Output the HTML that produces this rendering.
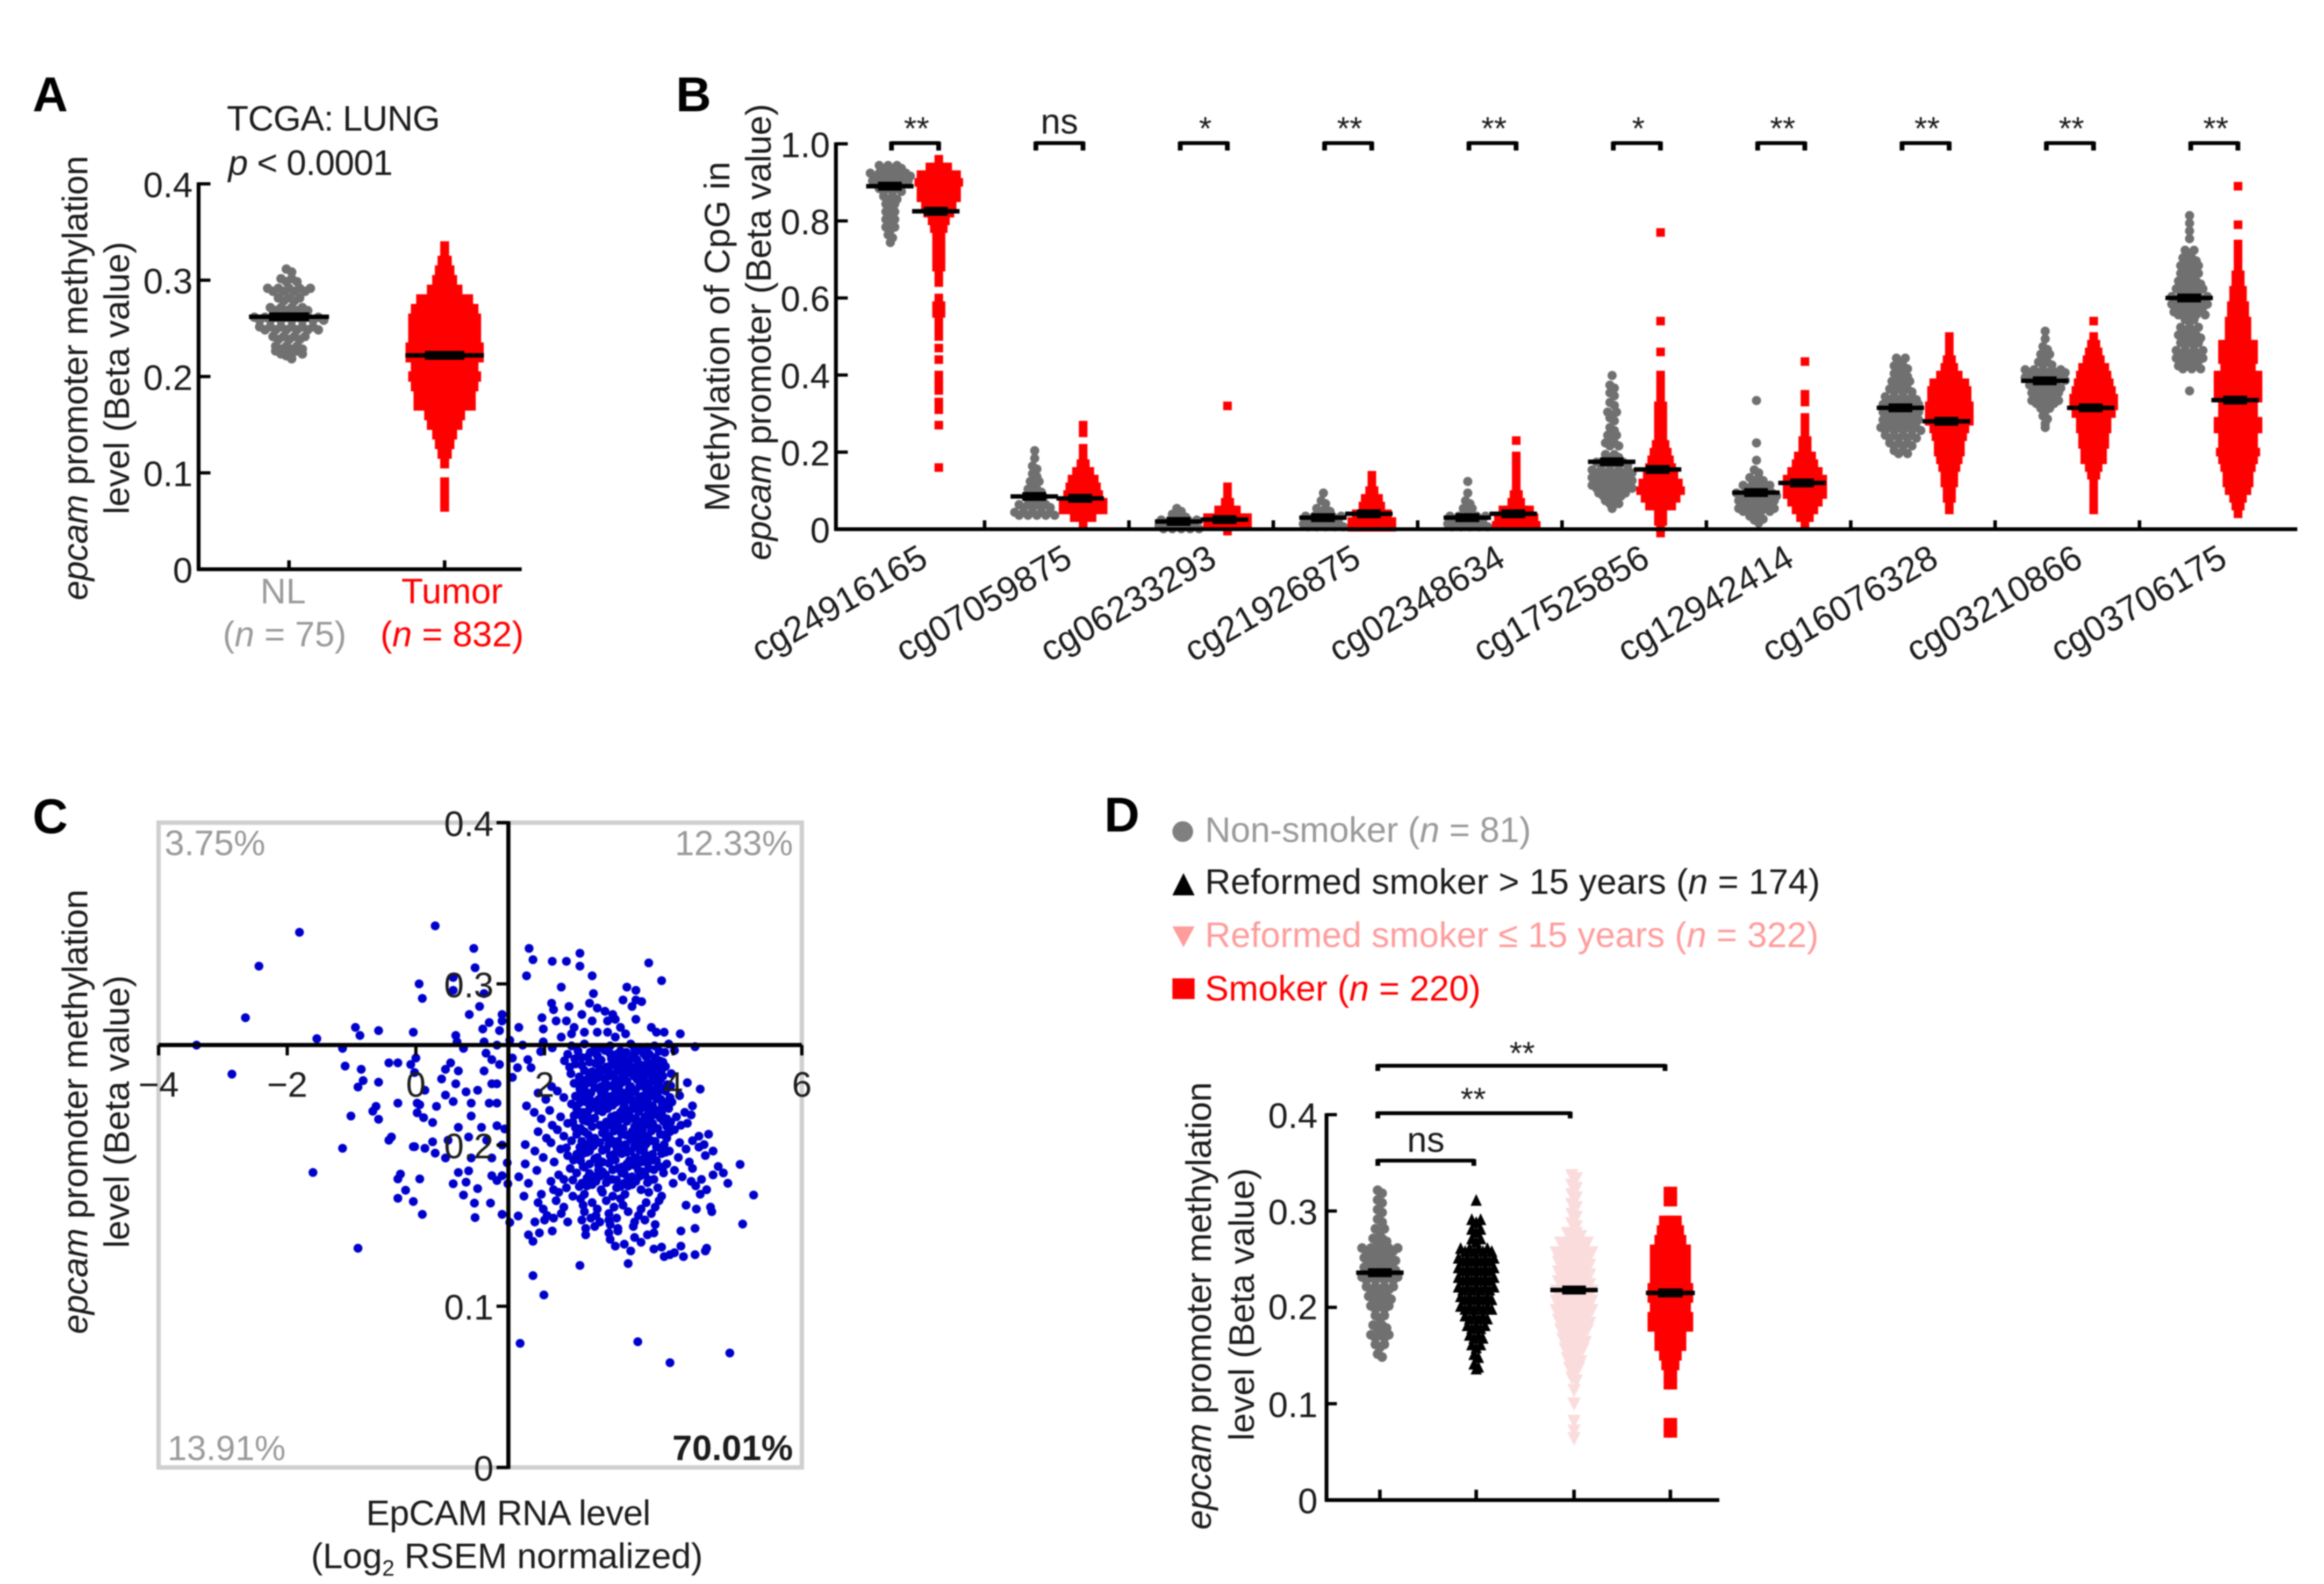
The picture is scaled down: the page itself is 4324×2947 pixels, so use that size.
<!DOCTYPE html>
<html lang="en">
<head>
<meta charset="utf-8">
<title>EpCAM promoter methylation figure</title>
<style>
html,body{margin:0;padding:0;background:#fff;}
svg{display:block;filter:blur(1.2px);}
text{font-family:"Liberation Sans",Arial,sans-serif;fill:#1c1c1c;}
.tick{font-size:24px;}
.t{font-size:24px;}
.letter{font-size:33px;font-weight:bold;fill:#000;}
.g{fill:#9a9a9a;}
.r{fill:#ff0000;}
.p{fill:#ff9c9c;}
</style>
</head>
<body>
<svg id="fig" xmlns="http://www.w3.org/2000/svg" width="4324" height="2947" viewBox="0 0 1568 1068.6">
<rect x="0" y="0" width="1568" height="1068.6" fill="#fff"/>

<!-- Panel A text -->
<text class="letter" x="22" y="75">A</text>
<text class="t" x="153" y="88" textLength="144">TCGA: LUNG</text>
<text class="t" x="154" y="118" textLength="111"><tspan font-style="italic">p</tspan> &lt; 0.0001</text>
<text class="t" transform="translate(59,255) rotate(-90)" text-anchor="middle" textLength="300"><tspan font-style="italic">epcam</tspan> promoter methylation</text>
<text class="t" transform="translate(87,255) rotate(-90)" text-anchor="middle" textLength="184">level (Beta value)</text>
<text class="tick" x="130" y="133" text-anchor="end">0.4</text>
<text class="tick" x="130" y="198" text-anchor="end">0.3</text>
<text class="tick" x="130" y="263" text-anchor="end">0.2</text>
<text class="tick" x="130" y="328" text-anchor="end">0.1</text>
<text class="tick" x="130" y="393" text-anchor="end">0</text>
<text class="t g" x="191" y="407" text-anchor="middle">NL</text>
<text class="t g" x="192" y="436" text-anchor="middle">(<tspan font-style="italic" class="g">n</tspan> = 75)</text>
<text class="t r" x="305" y="407" text-anchor="middle">Tumor</text>
<text class="t r" x="305" y="436" text-anchor="middle">(<tspan font-style="italic" class="r">n</tspan> = 832)</text>

<!-- Panel B text -->
<text class="letter" x="456" y="75">B</text>
<text class="t" transform="translate(492,227) rotate(-90)" text-anchor="middle" textLength="236">Methylation of CpG in</text>
<text class="t" transform="translate(520,224) rotate(-90)" text-anchor="middle" textLength="308"><tspan font-style="italic">epcam</tspan> promoter (Beta value)</text>

<!-- Panel C text -->
<text class="letter" x="22" y="562">C</text>
<text class="t" transform="translate(59,750) rotate(-90)" text-anchor="middle" textLength="300"><tspan font-style="italic">epcam</tspan> promoter methylation</text>
<text class="t" transform="translate(87,750) rotate(-90)" text-anchor="middle" textLength="184">level (Beta value)</text>
<text class="t" x="343" y="1029" text-anchor="middle" textLength="192">EpCAM RNA level</text>
<text class="t" x="342" y="1058" text-anchor="middle">(Log<tspan font-size="15" dy="5">2</tspan><tspan dy="-5"> RSEM normalized)</tspan></text>

<!-- Panel D text -->
<text class="letter" x="745" y="561">D</text>
<g>
<circle cx="798" cy="561" r="7" fill="#808080"/>
<text class="t g" x="813" y="568" textLength="220">Non-smoker (<tspan font-style="italic" class="g">n</tspan> = 81)</text>
<polygon points="791,604 806,604 798.5,589" fill="#000"/>
<text class="t" x="813" y="603" fill="#000" textLength="415">Reformed smoker &gt; 15 years (<tspan font-style="italic">n</tspan> = 174)</text>
<polygon points="791,625 806,625 798.5,639" fill="#ff9c9c"/>
<text class="t p" x="813" y="639" textLength="414">Reformed smoker ≤ 15 years (<tspan font-style="italic" class="p">n</tspan> = 322)</text>
<rect x="791" y="660" width="15" height="14" fill="#ff0000"/>
<text class="t r" x="813" y="675">Smoker (<tspan font-style="italic" class="r">n</tspan> = 220)</text>
</g>
<text class="t" transform="translate(817,881) rotate(-90)" text-anchor="middle" textLength="302"><tspan font-style="italic">epcam</tspan> promoter methylation</text>
<text class="t" transform="translate(846,880) rotate(-90)" text-anchor="middle" textLength="184">level (Beta value)</text>
<text class="tick" x="889" y="761" text-anchor="end">0.4</text>
<text class="tick" x="889" y="826" text-anchor="end">0.3</text>
<text class="tick" x="889" y="890" text-anchor="end">0.2</text>
<text class="tick" x="889" y="956" text-anchor="end">0.1</text>
<text class="tick" x="889" y="1021" text-anchor="end">0</text>

<g id="marks"></g>
</svg>

<script>
/* ---------- Panel A values ---------- */
const nlLevels=[.31,.30,.29,.28,.27,.26,.25,.24,.23,.225,.22];
const nlCounts=[2,4,9,5,8,14,12,7,6,6,2];
const tumorLevels=[.335,.328,.32,.31,.30,.29,.28,.27,.26,.25,.24,.23,.22,.21,.20,.19,.18,.17,.16,.15,.14,.13,.12,.11,.09,.08,.072,.065];
const tumorCounts=[1,1,2,3,4,6,10,12,13,13,13,14,14,12,13,12,11,11,7,6,4,3,2,1,1,1,1,1];
const aMeans=[.262,.222];

/* ---------- Panel B values ---------- */
const cpgNames=['cg24916165','cg07059875','cg06233293','cg21926875','cg02348634','cg17525856','cg12942414','cg16076328','cg03210866','cg03706175'];
const cpgSignificance=['**','ns','*','**','**','*','**','**','**','**'];
const cpgGrayMeans=[.89,.085,.02,.03,.03,.175,.095,.315,.385,.60];
const cpgRedMeans=[.825,.08,.025,.04,.04,.155,.12,.28,.315,.335];
const cpgGrayLevels=[
[.94,.92,.90,.88,.86,.84,.82,.80,.78,.76,.74],
[.20,.18,.16,.14,.12,.10,.08,.06,.04],
[.05,.035,.02,.005],
[.09,.07,.05,.03,.01],
[.12,.09,.07,.05,.03,.01],
[.395,.37,.35,.325,.30,.285,.26,.24,.22,.19,.17,.15,.13,.11,.09,.07,.05],
[.33,.22,.175,.15,.13,.11,.09,.07,.05,.03,.02],
[.44,.42,.40,.38,.36,.34,.32,.30,.28,.26,.24,.22,.20],
[.51,.49,.47,.45,.43,.41,.39,.37,.35,.33,.31,.29,.27,.26],
[.81,.79,.77,.75,.72,.70,.68,.66,.64,.62,.60,.58,.56,.54,.52,.50,.48,.46,.44,.42,.355]
];
const cpgGrayCounts=[
[6,10,9,6,4,3,3,3,3,2,1],
[1,1,2,2,3,4,5,8,10],
[2,4,9,10],
[1,2,4,9,10],
[1,1,2,3,9,10],
[1,2,2,2,3,2,2,3,4,4,8,10,10,10,7,4,1],
[1,1,1,2,4,7,10,9,9,4,2],
[3,4,4,5,6,8,9,9,9,10,8,6,4],
[1,1,2,3,4,10,10,8,7,7,3,2,1,1],
[1,1,1,1,3,4,5,5,6,7,9,9,8,3,5,6,5,7,7,6,1]
];
const cpgRedLevels=[
[.96,.94,.92,.90,.88,.86,.84,.82,.80,.78,.76,.74,.72,.70,.68,.66,.64,.60,.58,.56,.54,.52,.50,.47,.44,.40,.38,.36,.33,.31,.27,.16],
[.27,.25,.21,.19,.17,.15,.13,.11,.09,.07,.05,.03,.01],
[.32,.11,.09,.07,.05,.03,.01,-.005],
[.14,.12,.10,.08,.06,.04,.02,.005],
[.23,.19,.17,.15,.13,.11,.09,.07,.05,.03,.01],
[.77,.54,.46,.40,.38,.36,.34,.32,.30,.28,.26,.24,.22,.20,.18,.16,.14,.12,.10,.08,.06,.04,.02,0,-.01],
[.435,.35,.33,.29,.27,.25,.23,.21,.19,.17,.15,.13,.11,.09,.07,.05,.03,.01],
[.50,.48,.46,.44,.42,.40,.38,.36,.34,.32,.30,.28,.26,.24,.22,.20,.18,.16,.14,.12,.10,.08,.06,.05],
[.54,.50,.48,.46,.44,.42,.40,.38,.36,.34,.32,.30,.28,.26,.24,.22,.20,.18,.16,.14,.12,.10,.08,.06,.05],
[.89,.79,.74,.72,.70,.68,.66,.64,.62,.60,.58,.56,.54,.52,.50,.48,.46,.44,.42,.40,.38,.36,.34,.32,.30,.28,.26,.24,.22,.20,.18,.16,.14,.12,.10,.08,.06,.04]
];
const cpgRedCounts=[
[1,5,9,10,9,9,7,6,4,3,2,2,2,2,2,1,1,1,2,2,1,1,1,1,1,1,1,1,1,1,1,1],
[1,1,1,1,2,4,6,7,8,10,10,5,1],
[1,1,1,2,5,10,10,1],
[1,1,2,4,5,8,10,10],
[1,1,1,1,1,1,2,3,7,9,10],
[1,1,1,1,1,1,1,2,2,2,2,2,3,4,5,6,7,9,10,8,6,2,2,1,1],
[1,1,1,1,1,1,2,2,4,5,7,9,9,9,7,5,3,1],
[1,1,1,2,3,5,8,9,9,10,10,10,8,7,6,6,5,4,3,3,2,2,1,1],
[1,1,2,3,4,6,7,8,9,10,10,9,7,7,6,6,5,5,3,2,1,1,1,1,1],
[1,1,1,1,1,1,2,2,3,3,4,4,5,5,5,8,8,8,7,10,10,10,10,8,8,10,10,8,8,9,8,7,6,6,5,3,2,1]
];

/* ---------- Panel C values (RNA level, methylation beta) ---------- */
const scatterSparse=[[-3.41,.262],[-2.86,.244],[-2.65,.279],[-2.44,.311],[-1.81,.332],[-1.54,.266],[-1.60,.183],[-1.14,.198],[-1.14,.260],[-1.10,.249],[-1.01,.218],[-.94,.273],[-.87,.268],[-.85,.247],[-.90,.236],[-.82,.24],[-.90,.136],[-.67,.221],[-.62,.224],[-.58,.271],[-.58,.239],[-.58,.216],[-.42,.203],[-.38,.205],[-.42,.251],[-.28,.251],[-.28,.226],[-.28,.179],[-.24,.182],[-.28,.167],[-.16,.172],[-.04,.270],[0,.254],[-.08,.250],[-.02,.245],[-.04,.199],[.06,.225],[.02,.22],[-.04,.165],[.10,.157],[.06,.179],[.05,.300],[.10,.291],[.30,.336],[.90,.322],[.92,.310],[.58,.304],[.58,.296],[1.06,.294],[.99,.286],[.83,.281],[1.34,.281],[1.34,.277],[1.14,.276],[1.04,.272],[1.30,.271],[.62,.268],[.64,.264],[.74,.260],[1.06,.264],[1.26,.262],[1.60,.273],[1.46,.265],[1.66,.262],[1.09,.257],[1.18,.253],[1.30,.250],[1.50,.254],[.54,.251],[.46,.247],[.66,.246],[.40,.241],[.62,.238],[1.06,.246],[1.18,.238],[1.26,.238],[1.50,.242],[1.58,.248],[1.74,.253],[1.79,.248],[1.94,.258],[1.98,.264],[.96,.234],[.78,.233],[.46,.231],[.58,.227],[.32,.224],[.86,.226],[1.14,.226],[1.26,.226],[.86,.218],[.14,.234],[.12,.217],[.26,.214],[.02,.226],[.82,.205],[1.02,.211],[1.26,.212],[1.38,.210],[1.10,.203],[.66,.211],[.50,.203],[.26,.202],[-.02,.199],[.14,.198],[.30,.195],[.46,.192],[.86,.192],[1.18,.192],[1.34,.200],[1.42,.189],[1.34,.181],[1.18,.181],[.66,.183],[.82,.184],[.58,.176],[.78,.177],[.96,.173],[1.26,.178],[1.43,.176],[.74,.169],[.91,.164],[1.16,.164],[.92,.155],[1.34,.157],[1.46,.152],[1.59,.156],[1.76,.322],[1.82,.315],[1.72,.305],[2.12,.314],[2.34,.314],[2.55,.319],[2.55,.311],[2.74,.305],[2.76,.294],[2.26,.298],[2.11,.288],[2.14,.284],[2.38,.286],[1.96,.279],[2.18,.277],[2.34,.277],[2.46,.273],[1.98,.272],[2.42,.269],[2.26,.267],[3.62,.313],[3.82,.302],[3.28,.298],[3.42,.296],[3.22,.290],[3.42,.290],[3.51,.289],[3.36,.286],[3.42,.278],[3.66,.273],[3.86,.270],[4.11,.269],[4.34,.261],[3.74,.270],[2.70,.288],[2.82,.285],[2.94,.283],[3.06,.281],[2.58,.281],[2.74,.277],[2.98,.277],[3.10,.278],[2.62,.270],[2.82,.270],[2.98,.270],[3.18,.273],[3.26,.269],[3.10,.267],[5.04,.188],[5.25,.169],[5.08,.151],[1.82,.119],[1.99,.107],[1.62,.077],[3.45,.078],[3.95,.065],[4.88,.071],[4.52,.136]];
const scatterDenseLevels=[.2615,.2575,.2535,.2495,.2455,.2415,.2375,.2335,.2295,.2255,.2215,.2175,.2135,.2095,.2055,.2015,.1975,.1935,.1895,.1855,.1815,.1775,.1735,.1695,.1655,.1615,.1575,.1535,.1495,.1455,.1415,.1385,.1355,.132,.1265,
.2595,.2555,.2515,.2475,.2435,.2395,.2355,.2315,.2275,.2235,.2195,.2155,.2115,.2075,.2035,.1995,.1955,.1915,.1875,.1835,.1795,.1755];
const scatterDenseRna=[
[2.12,2.42,2.62,2.88,3.02,3.34,3.52,3.71,3.93],
[2.36,2.71,2.94,3.12,3.27,3.46,3.63,3.87,4.02],
[2.31,2.47,2.67,2.85,3.04,3.16,3.31,3.42,3.58,3.79],
[2.39,2.58,2.79,2.96,3.09,3.22,3.36,3.51,3.66,3.74],
[2.41,2.74,2.91,3.03,3.19,3.29,3.44,3.61,3.82,3.97],
[2.63,2.82,2.99,3.13,3.24,3.39,3.49,3.69,3.84],
[2.11,2.57,2.68,2.88,3.07,3.2,3.34,3.53,3.63,3.76,3.91,4.22],
[1.9,2.2,2.55,2.72,2.93,3.1,3.26,3.41,3.58,3.72,3.88,4.42],
[2.02,2.3,2.6,2.84,3.0,3.15,3.3,3.47,3.64,3.81,3.95,4.1],
[1.72,2.42,2.65,2.77,2.95,3.12,3.24,3.38,3.55,3.68,3.83,3.98,4.3],
[1.84,2.08,2.5,2.6,2.83,2.98,3.18,3.33,3.5,3.62,3.78,3.93,4.18],
[1.95,2.25,2.55,2.72,3.04,3.22,3.42,3.56,3.75,3.9,4.05,4.28],
[2.12,2.36,2.66,2.86,3.1,3.28,3.45,3.68,3.85,4.12,4.22],
[1.9,2.2,2.48,2.62,2.94,3.16,3.36,3.52,3.72,3.95,4.02],
[2.03,2.3,2.5,2.78,3.0,3.2,3.4,3.6,3.8,3.9,4.4,4.55],
[1.7,2.1,2.42,2.64,2.86,3.05,3.26,3.46,3.66,3.86,4.1,4.3,4.48],
[1.85,2.25,2.55,2.7,2.96,3.12,3.34,3.54,3.74,3.94,4.2,4.4,4.62],
[1.98,2.36,2.6,2.82,3.02,3.2,3.4,3.6,3.82,4.08,4.5],
[1.7,2.15,2.45,2.7,2.9,3.1,3.28,3.5,3.68,3.9,4.25],
[1.88,2.4,2.6,2.84,3.14,3.3,3.46,3.62,3.78,4.02,4.3,4.7],
[1.6,2.22,2.5,2.76,2.95,3.2,3.36,3.56,3.85,4.14,4.62,4.78],
[1.75,2.1,2.3,2.58,2.8,3.05,3.24,3.42,3.7,4.0,4.28,4.44,4.85],
[2.14,2.34,2.66,2.88,3.12,3.3,3.5,3.76,4.35,4.52],
[1.68,1.95,2.22,2.44,2.62,2.9,3.06,3.25,3.62,3.82,4.42],
[1.9,2.18,2.56,2.74,2.96,3.18,3.58,3.78],
[1.98,2.3,2.6,2.82,3.08,3.22,3.5,3.72,4.2,4.36,4.58],
[2.04,2.26,2.62,2.8,3.0,3.3,3.46,3.66,4.6],
[1.85,2.0,2.14,2.36,2.58,2.72,2.86,3.0,3.12,3.4,3.56],
[2.64,2.78,3.02,3.14,3.38,3.72,4.34],
[1.75,1.92,2.12,2.64,3.0,3.14,3.6,3.7,4.12],
[1.82,3.02,3.4],
[3.1,3.24,3.5,4.12],
[3.34,3.7,3.82,4.5],
[3.86,3.95,4.02,4.16,4.34],
[2.55,3.3],
[2.52,2.78,3.0,3.18,3.4,3.6,3.78],
[2.58,2.82,3.02,3.22,3.38,3.54,3.72],
[2.48,2.7,2.88,3.12,3.28,3.44,3.6,3.84],
[2.62,2.86,3.0,3.14,3.32,3.46,3.56,3.7,3.88],
[2.54,2.7,2.86,3.08,3.22,3.34,3.54,3.66,3.78],
[2.46,2.76,2.94,3.1,3.28,3.44,3.58,3.72,3.8],
[2.62,2.78,3.0,3.16,3.32,3.48,3.66,3.82,3.96],
[2.48,2.66,2.88,3.04,3.2,3.36,3.52,3.68,3.76],
[2.55,2.72,2.9,3.06,3.18,3.34,3.5,3.6,3.74,3.9],
[2.7,2.88,3.06,3.22,3.42,3.58,3.7,3.86],
[2.46,2.66,2.9,3.1,3.28,3.46,3.66,3.82],
[2.44,2.6,2.78,2.96,3.16,3.36,3.5,3.62,3.8,3.96],
[2.56,2.74,3.02,3.22,3.4,3.58,3.76,3.9],
[2.68,2.9,3.08,3.26,3.46,3.66,3.86],
[2.58,2.72,2.96,3.14,3.34,3.52,3.72],
[2.34,2.76,3.0,3.2,3.4,3.58,3.8],
[2.5,2.66,2.9,3.08,3.28,3.48,3.68,3.88],
[2.56,2.78,3.06,3.32,3.44,3.56,3.74],
[2.62,2.84,3.0,3.2,3.4,3.6,3.84],
[2.7,2.9,3.06,3.24,3.52,3.7],
[2.44,2.66,2.86,3.12,3.3,3.48,3.64],
[2.54,2.74,2.96,3.18,3.36,3.6]
];
const cXTicks=[-4,-2,0,2,4,6];
const cYTicks=[0,.1,.2,.3,.4];
const cYTickLabels=['0','0.1','0.2','0.3','0.4'];
const quadrantNames=['3.75%','12.33%','13.91%','70.01%'];

/* ---------- Panel D values ---------- */
const dNonLevels=[.32,.31,.30,.29,.28,.27,.26,.25,.24,.23,.22,.21,.20,.19,.18,.17,.16,.15];
const dNonCounts=[2,2,2,2,3,4,9,8,8,9,7,6,5,3,4,5,3,2];
const dOverLevels=[.31,.29,.28,.27,.26,.25,.24,.23,.22,.21,.20,.19,.18,.17,.16,.15,.14,.135];
const dOverCounts=[1,3,3,3,8,9,9,9,9,8,8,6,5,4,3,2,2,1];
const dUnderLevels=[.335,.325,.315,.305,.295,.285,.275,.265,.255,.245,.235,.225,.215,.205,.195,.185,.175,.165,.155,.145,.135,.125,.112,.098,.08,.07,.062];
const dUnderCounts=[2,2,2,2,2,2,4,7,9,8,8,8,9,9,9,8,7,6,5,4,3,2,1,1,1,1,1];
const dSmokerLevels=[.32,.31,.29,.28,.27,.26,.25,.24,.23,.22,.21,.20,.19,.18,.17,.16,.15,.14,.13,.12,.08,.07];
const dSmokerCounts=[2,2,4,5,6,8,8,8,8,9,9,8,9,9,6,6,4,3,2,2,2,2];
const dMeans=[.236,.228,.218,.215];

/* ---------- Drawing helpers ---------- */
const SVGNS='http://www.w3.org/2000/svg';
const root=document.getElementById('marks');

function line(x1,y1,x2,y2,w,color,name){
  const el=document.createElementNS(SVGNS,'line');
  
  
  el.setAttribute('x1',x1);el.setAttribute('y1',y1);
  el.setAttribute('x2',x2);el.setAttribute('y2',y2);
  el.setAttribute('stroke',color);el.setAttribute('stroke-width',w);
  root.appendChild(el);
}
function label(x,y,str,size,anchor,cls,name,transform){
  const el=document.createElementNS(SVGNS,'text');
  
  
  el.setAttribute('x',x);el.setAttribute('y',y);
  el.setAttribute('font-size',size);
  el.setAttribute('text-anchor',anchor);
  if(cls)el.setAttribute('class',cls);
  if(transform)el.setAttribute('transform',transform);
  el.textContent=str;
  root.appendChild(el);
}
function marker(shape,x,y,w,h,color,name){
  let el;
  if(shape==='circle'){
    el=document.createElementNS(SVGNS,'circle');
    el.setAttribute('cx',x);el.setAttribute('cy',y);el.setAttribute('r',w/2);
  }else if(shape==='square'){
    el=document.createElementNS(SVGNS,'rect');
    el.setAttribute('x',x-w/2);el.setAttribute('y',y-h/2);
    el.setAttribute('width',w);el.setAttribute('height',h);
  }else{
    el=document.createElementNS(SVGNS,'polygon');
    const s=shape==='up'?1:-1;
    el.setAttribute('points',(x-w/2)+','+(y+s*h/2)+' '+(x+w/2)+','+(y+s*h/2)+' '+x+','+(y-s*h/2));
  }
  
  
  el.setAttribute('fill',color);
  root.appendChild(el);
}
function swarm(cx,scaleY,levels,counts,shape,color,spacing,w,h,name){
  levels.forEach(function(v,i){
    const n=counts[i];
    for(let k=0;k<n;k++){
      const off=(k-(n-1)/2)*spacing;
      const wobble=(shape==='square')?0:((k%2)?1:-1);
      marker(shape,cx+off,scaleY(v)+wobble,w,h,color,name);
    }
  });
}
function meanBar(cx,y,width,name){
  line(cx-width/2,y,cx+width/2,y,3,'#000',name);
  line(cx-width/4,y,cx+width/4,y,6,'#000',name+'-core');
}
function bracket(x1,x2,y,foot,name){
  line(x1,y,x2,y,2.6,'#000',name);
  line(x1+.6,y-1,x1+.6,y+foot,3.2,'#000',name+'-left-foot');
  line(x2-.6,y-1,x2-.6,y+foot,3.2,'#000',name+'-right-foot');
}

/* ---------- Panel A ---------- */
const aY=function(v){return 384-v/0.4*260;};
swarm(195,aY,nlLevels,nlCounts,'circle','#707070',3.6,6.4,6.4,'nl-sample');
swarm(300,aY,tumorLevels,tumorCounts,'square','#ff0000',3.6,6,7,'tumor-sample');
meanBar(195,aY(aMeans[0]),54,'nl-mean');
meanBar(300,aY(aMeans[1]),53,'tumor-mean');
line(134,123,134,385,2.6,'#000','a-y-axis');
line(133,384,352,384,2.6,'#000','a-x-axis');
[0,.1,.2,.3,.4].forEach(function(v){line(134,aY(v),142,aY(v),2.2,'#000','a-y-tick');});
line(195,384,195,378,2.4,'#000','a-x-tick-nl');
line(300,384,300,378,2.4,'#000','a-x-tick-tumor');

/* ---------- Panel B ---------- */
const bY=function(v){return 357-v*260;};
const bCenter=function(i){return 617.4+i*97.4;};
cpgNames.forEach(function(nm,i){
  const c=bCenter(i);
  swarm(c-16.7,bY,cpgGrayLevels[i],cpgGrayCounts[i],'circle','#707070',3,6.2,6.2,'cpg-normal-sample');
  swarm(c+16,bY,cpgRedLevels[i],cpgRedCounts[i],'square','#ff0000',3,5.8,5.8,'cpg-tumor-sample');
  meanBar(c-17,bY(cpgGrayMeans[i]),32,'cpg-normal-mean');
  meanBar(c+14,bY(cpgRedMeans[i]),32,'cpg-tumor-mean');
  bracket(c-16.5,c+16.5,96.5,5,'cpg-significance-bracket');
  label(c+ (cpgSignificance[i]==='ns'?-1:0)+1,cpgSignificance[i]==='ns'?90:94,cpgSignificance[i],cpgSignificance[i]==='ns'?24:22,'middle','', 'cpg-significance-label');
  label(c+10,381,nm,24,'end','','cpg-x-label','rotate(-30 '+(c+10)+' 381)');
});
for(let k=0;k<9;k++){line(664.3+k*97.4,357,664.3+k*97.4,351,2.4,'#000','b-x-tick');}
line(564,96,564,358,2.6,'#000','b-y-axis');
line(563,357,1550,357,2.6,'#000','b-x-axis');
['0','0.2','0.4','0.6','0.8','1.0'].forEach(function(t,i){
  const v=i*0.2;
  line(564,bY(v),572,bY(v),2.2,'#000','b-y-tick');
  label(560,bY(v)+9,t,24,'end','tick','b-y-tick-label');
});

/* ---------- Panel C ---------- */
const cX=function(v){return 107+(v+4)*43.4;};
const cY=function(v){return 990-v*1087.5;};
(function(){
  const el=document.createElementNS(SVGNS,'rect');
  
  
  el.setAttribute('x',107);el.setAttribute('y',555);
  el.setAttribute('width',434);el.setAttribute('height',435);
  el.setAttribute('fill','none');el.setAttribute('stroke','#cfcfcf');el.setAttribute('stroke-width',3);
  root.appendChild(el);
})();
scatterSparse.forEach(function(p){marker('circle',cX(p[0]),cY(p[1]),6,6,'#0000cd','sample-point');});
scatterDenseLevels.forEach(function(lv,i){
  scatterDenseRna[i].forEach(function(x,j){marker('circle',cX(x),cY(lv+(j%3-1)*.0012),6,6,'#0000cd','sample-point');});
});
line(343,554,343,991,2.8,'#000','c-y-axis');
line(107,705,541,705,2.8,'#000','c-x-axis');
cYTicks.forEach(function(v,i){
  line(343,cY(v),335,cY(v),2.2,'#000','c-y-tick');
  label(333,cY(v)+9,cYTickLabels[i],24,'end','tick','c-y-tick-label');
});
cXTicks.forEach(function(v){
  line(cX(v),705,cX(v),712,2.2,'#000','c-x-tick');
  label(cX(v),740,(v<0?'\u2212':'')+Math.abs(v),24,'middle','tick','c-x-tick-label');
});
label(111,577,quadrantNames[0],24,'start','g','quadrant-upper-left');
label(535,577,quadrantNames[1],23.5,'end','g','quadrant-upper-right');
label(113,985,quadrantNames[2],23.5,'start','g','quadrant-lower-left');
label(535,985,quadrantNames[3],24,'end','q-bold','quadrant-lower-right');
document.querySelector('.q-bold').setAttribute('font-weight','bold');

/* ---------- Panel D ---------- */
const dY=function(v){return 1012-v*650;};
const dXs=[931,996,1062,1127];
swarm(dXs[0],dY,dNonLevels,dNonCounts,'circle','#707070',3,6.6,6.6,'non-smoker-sample');
swarm(dXs[1],dY,dOverLevels,dOverCounts,'up','#000',3,7.6,8,'reformed-over-15-sample');
swarm(dXs[2],dY,dUnderLevels,dUnderCounts,'down','#fadcdc',3,9,9,'reformed-under-15-sample');
swarm(dXs[3],dY,dSmokerLevels,dSmokerCounts,'square','#ff0000',3.1,6,6.8,'smoker-sample');
meanBar(dXs[0],dY(dMeans[0]),32,'non-smoker-mean');
meanBar(dXs[2],dY(dMeans[2]),32,'reformed-under-15-mean');
meanBar(dXs[3],dY(dMeans[3]),33,'smoker-mean');
line(895,751,895,1013,2.6,'#000','d-y-axis');
line(894,1012,1160,1012,2.6,'#000','d-x-axis');
[0,.1,.2,.3,.4].forEach(function(v){line(895,dY(v),902,dY(v),2.2,'#000','d-y-tick');});
dXs.forEach(function(x){line(x,1012,x,1005,2.4,'#000','d-x-tick');});
bracket(929,1124,719,3.5,'d-bracket-smoker');
bracket(929,1060,751,3.5,'d-bracket-reformed-under-15');
bracket(929,995,783,3.5,'d-bracket-reformed-over-15');
label(1027,718,'**',22,'middle','','d-sig-smoker');
label(994,749,'**',22,'middle','','d-sig-reformed-under-15');
label(962,777,'ns',24,'middle','','d-sig-reformed-over-15');
</script>
</body>
</html>
